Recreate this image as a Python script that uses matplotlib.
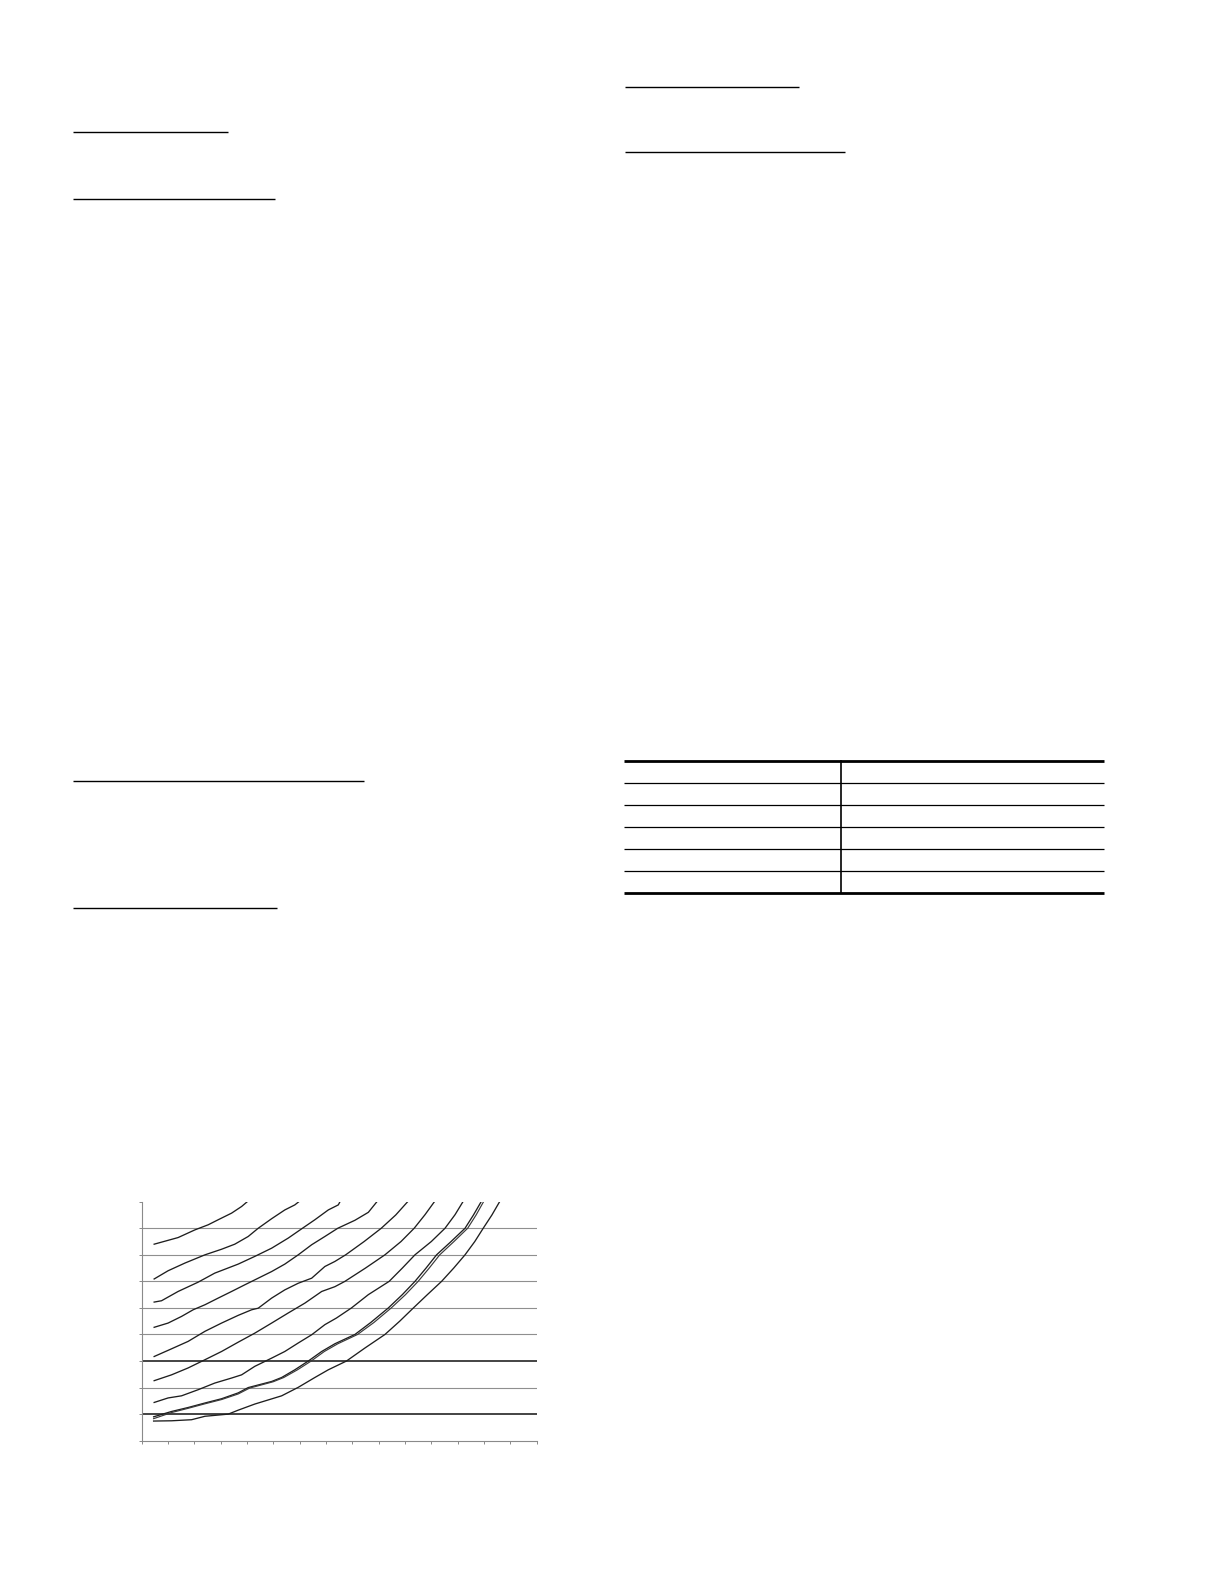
import matplotlib
matplotlib.use("Agg")
import matplotlib.pyplot as plt

# page size in pixels (dpi 100)
W, H = 1224, 1584

# curves (x in tick units, y in gridline units)
c1_x = [0.48, 1.39, 2.03, 2.53, 2.91, 3.42, 3.80, 4.05]
c1_y = [7.40, 7.65, 7.94, 8.13, 8.32, 8.57, 8.82, 9.03]

c2_x = [0.48, 1.01, 1.65, 2.41, 3.04, 3.54, 4.05, 4.43, 4.94, 5.44, 5.82, 6.01]
c2_y = [6.09, 6.40, 6.69, 7.00, 7.21, 7.40, 7.69, 8.00, 8.36, 8.69, 8.88, 9.03]

c3_x = [0.48, 0.76, 1.39, 2.15, 2.78, 3.67, 4.30, 4.94, 5.57, 6.08, 6.58, 7.09, 7.47, 7.55]
c3_y = [5.22, 5.27, 5.62, 5.97, 6.31, 6.65, 6.94, 7.25, 7.63, 7.98, 8.32, 8.69, 8.88, 9.03]

c4_x = [0.48, 1.01, 1.52, 1.96, 2.41, 2.91, 3.42, 3.92, 4.43, 4.94, 5.44, 5.95,
        6.46, 6.96, 7.45, 8.10, 8.61, 8.96]
c4_y = [4.27, 4.43, 4.68, 4.93, 5.12, 5.37, 5.62, 5.87, 6.12, 6.37, 6.65, 7.00,
        7.38, 7.69, 8.00, 8.30, 8.60, 9.03]

c5_x = [0.48, 1.14, 1.77, 2.41, 3.04, 3.67, 4.18, 4.43, 4.94, 5.44, 5.95, 6.46,
        6.96, 7.34, 7.75, 8.45, 9.10, 9.65, 10.13]
c5_y = [3.17, 3.46, 3.74, 4.12, 4.43, 4.72, 4.93, 4.99, 5.37, 5.68, 5.93, 6.12,
        6.56, 6.75, 7.00, 7.50, 8.00, 8.50, 9.03]

c6_x = [0.48, 1.14, 1.77, 2.41, 3.04, 3.67, 4.30, 4.94, 5.57, 6.20, 6.84, 7.34,
        7.72, 8.50, 9.24, 9.85, 10.35, 10.76, 11.14]
c6_y = [2.26, 2.48, 2.74, 3.05, 3.36, 3.71, 4.05, 4.43, 4.81, 5.18, 5.62, 5.80,
        6.00, 6.50, 7.00, 7.50, 8.00, 8.51, 9.03]

c7_x = [0.48, 1.01, 1.52, 2.15, 2.78, 3.42, 3.80, 4.30, 4.94, 5.44, 5.95, 6.46,
        6.96, 7.40, 7.97, 8.61, 9.40, 9.90, 10.38, 11.00, 11.52, 11.90, 12.22]
c7_y = [1.44, 1.61, 1.69, 1.92, 2.17, 2.36, 2.48, 2.80, 3.11, 3.36, 3.68, 3.99,
        4.37, 4.62, 5.00, 5.50, 6.00, 6.50, 7.00, 7.50, 8.00, 8.51, 9.03]

c8_x = [0.46, 1.14, 1.77, 2.41, 3.04, 3.67, 4.05, 4.94, 5.32, 5.82, 6.33, 6.84,
        7.34, 8.10, 8.70, 9.37, 9.90, 10.38, 10.80, 11.20, 11.75, 12.28, 12.60, 12.91]
c8_y = [0.90, 1.10, 1.25, 1.42, 1.58, 1.80, 2.00, 2.23, 2.38, 2.67, 3.00, 3.36,
        3.65, 4.00, 4.45, 5.00, 5.50, 6.00, 6.50, 7.00, 7.50, 8.00, 8.50, 9.03]

c9_x = [0.46, 1.14, 1.77, 2.41, 3.04, 3.67, 4.10, 5.00, 5.40, 5.92, 6.44, 6.94,
        7.45, 8.20, 8.82, 9.48, 10.02, 10.50, 10.92, 11.32, 11.86, 12.38, 12.70, 13.00]
c9_y = [0.83, 1.06, 1.22, 1.39, 1.55, 1.76, 1.98, 2.22, 2.38, 2.67, 3.00, 3.36,
        3.65, 4.00, 4.45, 5.00, 5.50, 6.00, 6.50, 7.00, 7.50, 8.00, 8.50, 9.03]

c10_x = [0.46, 1.14, 1.90, 2.41, 3.29, 3.67, 4.30, 5.32, 5.95, 6.58, 7.09, 7.78,
         8.48, 9.24, 9.80, 10.32, 10.85, 11.39, 11.85, 12.28, 12.65, 12.97, 13.30, 13.61]
c10_y = [0.74, 0.75, 0.79, 0.92, 1.00, 1.15, 1.38, 1.69, 2.01, 2.38, 2.67, 3.00,
         3.49, 4.00, 4.50, 5.00, 5.50, 6.00, 6.50, 7.00, 7.50, 8.00, 8.50, 9.03]

curves = [(c1_x, c1_y), (c2_x, c2_y), (c3_x, c3_y), (c4_x, c4_y), (c5_x, c5_y),
          (c6_x, c6_y), (c7_x, c7_y), (c8_x, c8_y), (c9_x, c9_y), (c10_x, c10_y)]

x_ticks = list(range(0, 16))
y_ticks = list(range(0, 10))
grey_levels = [2, 4, 5, 6, 7, 8]
black_levels = [1, 3]

fig = plt.figure(figsize=(W / 100, H / 100), dpi=100)
fig.patch.set_facecolor("white")

# page decoration: header underlines and the empty table
page = fig.add_axes([0, 0, 1, 1], zorder=0)
page.set_xlim(0, W)
page.set_ylim(H, 0)
page.axis("off")

underlines = [(73, 228, 131.5), (73, 275, 199), (73, 364, 780.5), (73, 277, 907.5),
              (625, 799, 87), (625, 845, 151.5)]
for x0, x1, y in underlines:
    page.plot([x0, x1], [y, y], color="black", lw=1.0, solid_capstyle="butt")

tbl_left, tbl_right, tbl_div = 624, 1104, 841
tbl_rows = [760.5, 783, 805, 827, 849, 871, 893]
for i, y in enumerate(tbl_rows):
    thick = i in (0, len(tbl_rows) - 1)
    page.plot([tbl_left, tbl_right], [y, y], color="black",
              lw=2.0 if thick else 0.9, solid_capstyle="butt")
page.plot([tbl_div, tbl_div], [tbl_rows[0], tbl_rows[-1]], color="black", lw=1.2)

# the chart
ax = fig.add_axes([141.5 / W, 1 - 1440.7 / H, (536.7 - 141.5) / W, (1440.7 - 1201.7) / H],
                  zorder=1)
ax.patch.set_alpha(0)
ax.set_xlim(0, 15)
ax.set_ylim(0, 9)

for lv in grey_levels:
    ax.axhline(lv, color="#8f8f8f", lw=0.8, zorder=1)
for lv in black_levels:
    ax.axhline(lv, color="#111111", lw=1.1, zorder=1)

for i, (cx, cy) in enumerate(curves):
    ax.plot(cx, cy, color="#3a3a3a" if i == 8 else "#1e1e1e", lw=0.85 if i == 8 else 0.95,
            solid_joinstyle="round", zorder=2)

for side in ["top", "right"]:
    ax.spines[side].set_visible(False)
for side in ["left", "bottom"]:
    ax.spines[side].set_color("#8a8a8a")
    ax.spines[side].set_linewidth(0.8)

ax.set_xticks(x_ticks)
ax.set_yticks(y_ticks)
ax.tick_params(axis="both", direction="out", length=2.5, width=0.7, color="#8a8a8a",
               labelbottom=False, labelleft=False)

fig.savefig("out.png", dpi=100, facecolor="white")
